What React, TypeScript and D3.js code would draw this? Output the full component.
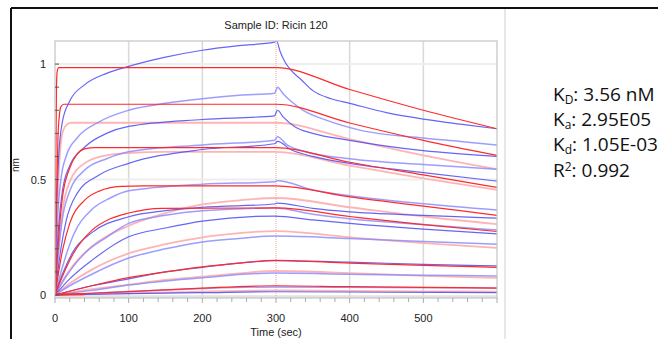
import React from "react";
import * as d3 from "d3";

type P = [number, number];

// Tick labels
const xTicks = [0, 100, 200, 300, 400, 500];
const yTicks = [0, 0.5, 1];
const xGrid = [100, 200, 400, 500];
const yGrid = [0.5, 1];

// Measured (blue) sensorgram traces: [time (s), response (nm)]
const blue1: P[] = [[0, 0], [2, 0.35], [5, 0.6], [10, 0.75], [20, 0.84], [40, 0.91], [70, 0.96], [100, 0.99], [150, 1.03], [200, 1.06], [250, 1.08], [298, 1.095], [301, 1.1], [305, 1.06], [312, 1.01], [320, 0.975], [335, 0.93], [350, 0.885], [375, 0.85], [400, 0.83], [450, 0.79], [500, 0.762], [550, 0.74], [600, 0.72]];
const blue2: P[] = [[0, 0], [3, 0.3], [8, 0.5], [15, 0.6], [30, 0.68], [60, 0.75], [100, 0.8], [150, 0.83], [200, 0.85], [250, 0.865], [298, 0.874], [302, 0.9], [310, 0.87], [320, 0.84], [337, 0.8], [370, 0.755], [414, 0.714], [500, 0.68], [550, 0.665], [600, 0.649]];
const blue3: P[] = [[0, 0], [5, 0.3], [10, 0.45], [20, 0.56], [40, 0.64], [70, 0.7], [100, 0.73], [200, 0.76], [298, 0.776], [302, 0.8], [310, 0.77], [325, 0.73], [350, 0.7], [400, 0.67], [450, 0.645], [500, 0.625], [600, 0.6]];
const blue4: P[] = [[0, 0], [5, 0.2], [10, 0.33], [20, 0.45], [40, 0.54], [70, 0.59], [100, 0.62], [200, 0.65], [298, 0.67], [302, 0.685], [315, 0.65], [340, 0.62], [400, 0.59], [500, 0.565], [600, 0.545]];
const blue5: P[] = [[0, 0], [8, 0.2], [15, 0.32], [30, 0.44], [60, 0.52], [100, 0.57], [200, 0.63], [298, 0.655], [302, 0.665], [320, 0.63], [350, 0.6], [400, 0.57], [500, 0.53], [600, 0.493]];
const blue6: P[] = [[0, 0], [10, 0.12], [25, 0.26], [50, 0.37], [75, 0.42], [100, 0.451], [200, 0.48], [298, 0.49], [302, 0.495], [350, 0.455], [400, 0.43], [500, 0.395], [600, 0.368]];
const blue7: P[] = [[0, 0], [10, 0.09], [25, 0.19], [50, 0.27], [100, 0.339], [150, 0.365], [200, 0.38], [298, 0.394], [302, 0.398], [350, 0.375], [400, 0.36], [500, 0.345], [600, 0.333]];
const blue8: P[] = [[0, 0], [15, 0.08], [40, 0.18], [70, 0.25], [100, 0.31], [150, 0.345], [200, 0.365], [298, 0.377], [350, 0.35], [400, 0.33], [500, 0.305], [600, 0.281]];
const blue9: P[] = [[0, 0], [20, 0.07], [50, 0.15], [100, 0.252], [150, 0.29], [200, 0.32], [298, 0.342], [350, 0.325], [400, 0.31], [500, 0.285], [600, 0.265]];
const blue10: P[] = [[0, 0], [20, 0.04], [50, 0.09], [100, 0.16], [150, 0.2], [200, 0.23], [250, 0.245], [298, 0.255], [400, 0.245], [500, 0.232], [600, 0.22]];
const blue11: P[] = [[0, 0], [50, 0.04], [100, 0.07], [150, 0.1], [200, 0.12], [250, 0.138], [298, 0.149], [400, 0.142], [500, 0.133], [600, 0.126]];
const blue12: P[] = [[0, 0], [50, 0.02], [100, 0.043], [200, 0.075], [298, 0.095], [400, 0.09], [500, 0.086], [600, 0.082]];
const blue13: P[] = [[0, 0], [100, 0.015], [200, 0.028], [298, 0.035], [450, 0.032], [600, 0.03]];
const blue14: P[] = [[0, 0], [100, 0.006], [200, 0.01], [298, 0.014], [450, 0.012], [600, 0.01]];

// Fitted (red) model curves
const red1: P[] = [[0, 0], [1, 0.5], [2, 0.9], [3, 0.97], [5, 0.985], [300, 0.985], [400, 0.89], [500, 0.8], [600, 0.72]];
const red2: P[] = [[0, 0], [2, 0.4], [4, 0.68], [6, 0.78], [8, 0.815], [12, 0.826], [300, 0.826], [400, 0.745], [500, 0.67], [600, 0.605]];
const red3: P[] = [[0, 0], [3, 0.35], [6, 0.58], [10, 0.7], [15, 0.735], [22, 0.746], [300, 0.746], [400, 0.675], [500, 0.605], [600, 0.545]];
const red4: P[] = [[0, 0], [5, 0.25], [10, 0.42], [20, 0.55], [30, 0.61], [40, 0.633], [55, 0.638], [300, 0.638], [400, 0.575], [500, 0.52], [600, 0.466]];
const red5: P[] = [[0, 0], [5, 0.2], [10, 0.36], [20, 0.49], [40, 0.57], [70, 0.605], [100, 0.615], [150, 0.62], [300, 0.62], [400, 0.56], [500, 0.505], [600, 0.455]];
const red6: P[] = [[0, 0], [5, 0.1], [10, 0.19], [20, 0.31], [40, 0.41], [60, 0.45], [90, 0.47], [120, 0.473], [300, 0.473], [400, 0.425], [500, 0.385], [600, 0.345]];
const red7: P[] = [[0, 0], [10, 0.06], [25, 0.13], [50, 0.21], [100, 0.3], [150, 0.355], [200, 0.392], [250, 0.41], [300, 0.42], [400, 0.38], [500, 0.34], [600, 0.307]];
const red8: P[] = [[0, 0], [10, 0.08], [25, 0.18], [50, 0.28], [75, 0.33], [100, 0.355], [145, 0.375], [300, 0.377], [400, 0.34], [500, 0.305], [600, 0.275]];
const red9: P[] = [[0, 0], [20, 0.05], [50, 0.11], [100, 0.18], [150, 0.22], [200, 0.25], [250, 0.268], [300, 0.277], [400, 0.25], [500, 0.225], [600, 0.204]];
const red10: P[] = [[0, 0], [50, 0.04], [100, 0.075], [150, 0.1], [200, 0.122], [250, 0.138], [300, 0.15], [400, 0.138], [500, 0.128], [600, 0.12]];
const red11: P[] = [[0, 0], [50, 0.025], [100, 0.045], [150, 0.065], [200, 0.08], [250, 0.094], [300, 0.104], [400, 0.095], [500, 0.083], [600, 0.074]];
const red12: P[] = [[0, 0], [100, 0.015], [200, 0.03], [300, 0.04], [400, 0.036], [500, 0.033], [600, 0.03]];
const red13: P[] = [[0, 0], [100, 0.008], [200, 0.015], [300, 0.02], [400, 0.018], [500, 0.016], [600, 0.015]];

const blueSeries = [blue1, blue2, blue3, blue4, blue5, blue6, blue7, blue8, blue9, blue10, blue11, blue12, blue13, blue14];
const blueLight = [false, true, false, true, false, true, false, true, false, true, false, true, true, false];
const redSeries = [red1, red2, red3, red4, red5, red6, red7, red8, red9, red10, red11, red12, red13];
const redLight = [false, false, true, false, true, false, true, false, true, false, true, false, true];

const W = 658, H = 339;
const L = 55, R = 497, T = 41, B = 298;

export default function App() {
  const x = d3.scaleLinear().domain([0, 600]).range([L, R]);
  const y = d3.scaleLinear().domain([-0.013, 1.1]).range([B, T]);
  const line = d3.line<P>().x(d => x(d[0])).y(d => y(d[1])).curve(d3.curveMonotoneX);
  const minorX = d3.range(0, 601, 20);
  const minorY = d3.range(0, 1.01, 0.1);

  return (
    <svg width={W} height={H} style={{ position: "absolute", left: 0, top: 0, background: "#fff" }}>
      <defs>
        <clipPath id="plotclip"><rect x={L} y={T} width={R - L} height={B - T} /></clipPath>
      </defs>
      <rect x={0} y={0} width={W} height={H} fill="#fff" />
      {/* outer frame */}
      <line x1={11} y1={8} x2={W} y2={8} stroke="#111" strokeWidth={2} />
      <line x1={11} y1={8} x2={11} y2={H} stroke="#111" strokeWidth={2} />
      <line x1={505} y1={9} x2={505} y2={H} stroke="#d0d0d0" strokeWidth={1} />

      <text x={(L + R) / 2} y={29} textAnchor="middle" fontFamily="Liberation Sans, Arial, sans-serif" fontSize={11} fill="#222">Sample ID: Ricin 120</text>

      {/* grid */}
      {xGrid.map(v => <line key={"gx" + v} x1={x(v)} x2={x(v)} y1={T} y2={B} stroke="#dadada" strokeWidth={1.6} />)}
      {yGrid.map(v => <line key={"gy" + v} x1={L} x2={R} y1={y(v)} y2={y(v)} stroke="#eeeeee" strokeWidth={2} />)}
      <line x1={L} x2={R} y1={y(0) + 1.5} y2={y(0) + 1.5} stroke="#e2e2e2" strokeWidth={2.5} />
      <line x1={x(300)} x2={x(300)} y1={T} y2={B} stroke="#f3a0a0" strokeWidth={1} strokeDasharray="1,1" />

      <g clipPath="url(#plotclip)" fill="none">
        {redSeries.map((s, i) => redLight[i] ? <path key={"rl" + i} d={line(s) || ""} stroke="#ffb4b4" strokeWidth={1.8} /> : null)}
        {blueSeries.map((s, i) => <path key={"b" + i} d={line(s) || ""} stroke={blueLight[i] ? "#8c8cff" : "#4a4af5"} strokeWidth={blueLight[i] ? 1.5 : 1.2} strokeOpacity={0.85} />)}
        {redSeries.map((s, i) => !redLight[i] ? <path key={"r" + i} d={line(s) || ""} stroke="#ff2a2a" strokeWidth={1.2} /> : null)}
        <line x1={x(0)} x2={x(40)} y1={y(0.003)} y2={y(0.003)} stroke="#ff2a2a" strokeWidth={2} />
      </g>

      {/* frame */}
      <rect x={L} y={T} width={R - L} height={B - T} fill="none" stroke="#c4c4c4" strokeWidth={1.2} />

      {/* y ticks */}
      {minorY.map(v => <line key={"my" + v} x1={L} x2={L + 4} y1={y(v)} y2={y(v)} stroke="#555" strokeWidth={1} />)}
      {yTicks.map(v => (
        <text key={"yt" + v} x={46} y={y(v) + 4} textAnchor="end" fontFamily="Liberation Sans, Arial, sans-serif" fontSize={11} fill="#222">{v}</text>
      ))}
      {/* x ticks */}
      {minorX.map(v => <line key={"mx" + v} x1={x(v)} x2={x(v)} y1={B} y2={B + (v % 100 === 0 ? 5 : 4)} stroke="#aaa" strokeWidth={1} />)}
      {xTicks.map(v => (
        <text key={"xt" + v} x={x(v)} y={322} textAnchor="middle" fontFamily="Liberation Sans, Arial, sans-serif" fontSize={11} fill="#222">{v}</text>
      ))}
      <text x={(L + R) / 2} y={336} textAnchor="middle" fontFamily="Liberation Sans, Arial, sans-serif" fontSize={11} fill="#222">Time (sec)</text>
      <text transform="translate(19,165) rotate(-90)" textAnchor="middle" fontFamily="Liberation Sans, Arial, sans-serif" fontSize={10} fill="#222">nm</text>

      {/* kinetic constants */}
      <g fontFamily="Open Sans, sans-serif" fontSize={19} fill="#111">
        <text x={553} y={101}>K<tspan fontSize={12} dy={3}>D</tspan><tspan dy={-3}>: 3.56 nM</tspan></text>
        <text x={553} y={126}>K<tspan fontSize={12} dy={3}>a</tspan><tspan dy={-3}>: 2.95E05</tspan></text>
        <text x={553} y={151}>K<tspan fontSize={12} dy={3}>d</tspan><tspan dy={-3}>: 1.05E-03</tspan></text>
        <text x={553} y={177}>R<tspan fontSize={12} dy={-6}>2</tspan><tspan dy={6}>: 0.992</tspan></text>
      </g>
    </svg>
  );
}
